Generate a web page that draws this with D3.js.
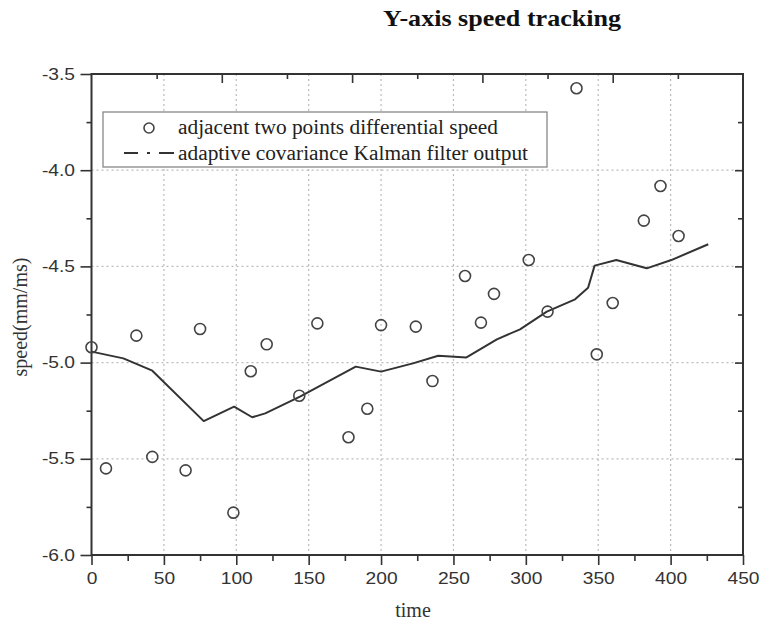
<!DOCTYPE html>
<html>
<head>
<meta charset="utf-8">
<script src="https://cdn.jsdelivr.net/npm/d3@7"></script>
<style>
  body { margin: 0; background: #fff; }
  .canva svg { display: block; }
</style>
</head>
<body>
<div class="canva"></div>
<script>
// measured points (time, speed)
const pointTime  = [0, 10, 31, 42, 65, 75, 98, 110, 121, 143.5, 156, 177.5, 190.5, 200, 224, 235.5, 258, 269, 278, 302, 315, 335, 349, 360, 381.5, 393, 405.5];
const pointSpeed = [-4.92, -5.55, -4.86, -5.49, -5.56, -4.825, -5.78, -5.045, -4.905, -5.172, -4.796, -5.388, -5.24, -4.805, -4.813, -5.096, -4.55, -4.792, -4.643, -4.467, -4.735, -3.574, -4.957, -4.69, -4.262, -4.082, -4.342];

// filter output
const lineTime  = [0, 22, 42, 77.5, 98.5, 111, 120, 144, 182.5, 200, 222, 239.5, 259, 280, 296, 314.5, 334, 343, 347.5, 362.5, 383.5, 400.5, 426];
const lineSpeed = [-4.943, -4.978, -5.042, -5.304, -5.229, -5.284, -5.264, -5.177, -5.021, -5.047, -5.004, -4.964, -4.973, -4.879, -4.827, -4.735, -4.671, -4.611, -4.496, -4.467, -4.51, -4.467, -4.385];

const xTicks = [0, 50, 100, 150, 200, 250, 300, 350, 400, 450];
const yTicks = [-6.0, -5.5, -5.0, -4.5, -4.0, -3.5];
const legendLabels = ["adjacent two points differential speed", "adaptive covariance Kalman filter output"];

const W = 760, H = 629;
const pLeft = 91.5, pRight = 743, pTop = 74, pBottom = 555;

const svg = d3.select(".canva").append("svg")
    .attr("width", W)
    .attr("height", H);

const x = d3.scaleLinear().domain([0, 450]).range([pLeft, pRight]);
const y = d3.scaleLinear().domain([-6, -3.5]).range([pBottom, pTop]);

const ink = "#333";
const sans = "'Liberation Sans', Arial, sans-serif";
const serif = "'Liberation Serif', 'Times New Roman', serif";
const stretch = 1.2;

// grid
const grid = svg.append("g").attr("stroke", "#bbb").attr("stroke-width", 1.2).attr("stroke-dasharray", "2,3");
grid.selectAll("line.gx")
    .data(xTicks.slice(1, -1))
    .enter().append("line")
    .attr("x1", d => x(d)).attr("x2", d => x(d))
    .attr("y1", pTop).attr("y2", pBottom);
grid.selectAll("line.gy")
    .data(yTicks.slice(1, -1))
    .enter().append("line")
    .attr("y1", d => y(d)).attr("y2", d => y(d))
    .attr("x1", pLeft).attr("x2", pRight);

// axes
function styleAxis(g) {
    g.select(".domain").remove();
    g.selectAll("line").attr("stroke", ink).attr("stroke-width", 1.6);
}

const minorX = d3.range(25, 450, 50);
const minorY = d3.range(-5.75, -3.5, 0.5);

svg.append("g")
    .attr("transform", `translate(0,${pBottom})`)
    .call(d3.axisBottom(x).tickValues(xTicks).tickSize(10).tickPadding(8).tickFormat(d3.format("d")))
    .call(styleAxis)
    .call(g => g.selectAll("text")
        .attr("fill", ink).style("font-family", sans).style("font-size", "16px")
        .attr("transform", `scale(${stretch},1)`));
svg.append("g")
    .attr("transform", `translate(0,${pBottom})`)
    .call(d3.axisBottom(x).tickValues(minorX).tickSize(6).tickFormat(""))
    .call(styleAxis);

svg.append("g")
    .attr("transform", `translate(${pLeft},0)`)
    .call(d3.axisLeft(y).tickValues(yTicks).tickSize(11).tickFormat(d => d.toFixed(1)))
    .call(styleAxis)
    .call(g => g.selectAll("text")
        .attr("fill", ink).style("font-family", sans).style("font-size", "16px")
        .attr("x", -16.5 / stretch)
        .attr("transform", `scale(${stretch},1)`));
svg.append("g")
    .attr("transform", `translate(${pLeft},0)`)
    .call(d3.axisLeft(y).tickValues(minorY).tickSize(5).tickFormat(""))
    .call(styleAxis);

// top and right: inward ticks only
svg.append("g")
    .attr("transform", `translate(0,${pTop})`)
    .call(d3.axisBottom(x).tickValues(d3.range(90, 450, 90)).tickSize(9).tickFormat(""))
    .call(styleAxis);
svg.append("g")
    .attr("transform", `translate(0,${pTop})`)
    .call(d3.axisBottom(x).tickValues(d3.range(45, 450, 90)).tickSize(5).tickFormat(""))
    .call(styleAxis);
svg.append("g")
    .attr("transform", `translate(${pRight},0)`)
    .call(d3.axisLeft(y).tickValues(yTicks.slice(1, -1)).tickSize(8).tickFormat(""))
    .call(styleAxis);
svg.append("g")
    .attr("transform", `translate(${pRight},0)`)
    .call(d3.axisLeft(y).tickValues(minorY).tickSize(5).tickFormat(""))
    .call(styleAxis);

// frame
svg.append("rect")
    .attr("x", pLeft).attr("y", pTop)
    .attr("width", pRight - pLeft).attr("height", pBottom - pTop)
    .attr("fill", "none").attr("stroke", ink).attr("stroke-width", 2);

// filter line
const lineData = lineTime.map((t, i) => [t, lineSpeed[i]]);
svg.append("path")
    .datum(lineData)
    .attr("d", d3.line().x(d => x(d[0])).y(d => y(d[1])))
    .attr("fill", "none")
    .attr("stroke", ink)
    .attr("stroke-width", 2)
    .attr("stroke-linejoin", "round");

// scatter
svg.append("g").selectAll("circle")
    .data(pointTime.map((t, i) => [t, pointSpeed[i]]))
    .enter().append("circle")
    .attr("cx", d => x(d[0]))
    .attr("cy", d => y(d[1]))
    .attr("r", 5.5)
    .attr("fill", "none")
    .attr("stroke", "#444")
    .attr("stroke-width", 1.6);

// legend
const lg = svg.append("g");
lg.append("rect")
    .attr("x", 103).attr("y", 112)
    .attr("width", 444).attr("height", 55)
    .attr("fill", "#fff").attr("stroke", "#888").attr("stroke-width", 1.3);
lg.append("circle")
    .attr("cx", 149).attr("cy", 128).attr("r", 5)
    .attr("fill", "none").attr("stroke", "#444").attr("stroke-width", 1.6);
lg.append("line")
    .attr("x1", 124).attr("x2", 174).attr("y1", 153).attr("y2", 153)
    .attr("stroke", ink).attr("stroke-width", 2)
    .attr("stroke-dasharray", "14,9,3,9,15");
lg.selectAll("text")
    .data(legendLabels)
    .enter().append("text")
    .attr("x", 178)
    .attr("y", (d, i) => 134 + i * 26)
    .attr("textLength", (d, i) => i ? 350 : 320)
    .attr("lengthAdjust", "spacingAndGlyphs")
    .attr("fill", "#222")
    .style("font-family", serif)
    .style("font-size", "20px")
    .text(d => d);

// titles
svg.append("text")
    .attr("x", 502).attr("y", 26)
    .attr("text-anchor", "middle")
    .attr("textLength", 238)
    .attr("lengthAdjust", "spacingAndGlyphs")
    .style("font-family", serif).style("font-weight", "bold").style("font-size", "23px")
    .attr("fill", "#111")
    .text("Y-axis speed tracking");

svg.append("text")
    .attr("x", 413).attr("y", 617)
    .attr("text-anchor", "middle")
    .style("font-family", serif).style("font-size", "20px")
    .attr("fill", ink)
    .text("time");

svg.append("text")
    .attr("transform", "translate(27,317) rotate(-90)")
    .attr("text-anchor", "middle")
    .style("font-family", serif).style("font-size", "20px")
    .attr("fill", ink)
    .text("speed(mm/ms)");
</script>
</body>
</html>
